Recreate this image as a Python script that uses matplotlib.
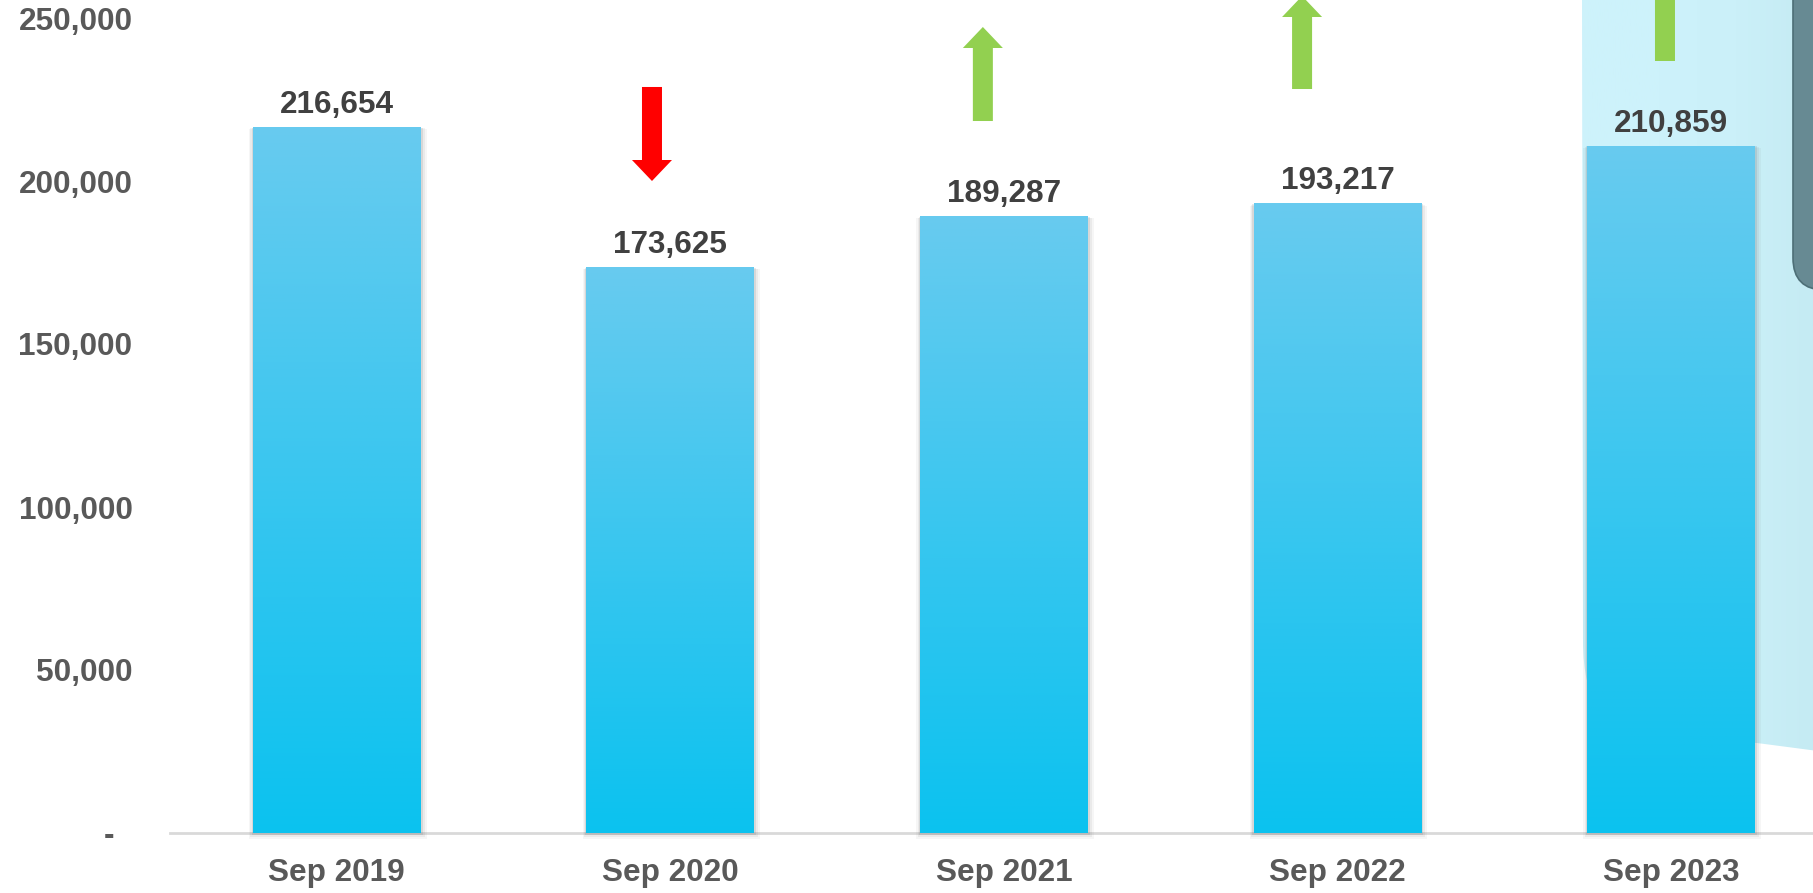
import numpy as np
import matplotlib
matplotlib.use("Agg")
import matplotlib.pyplot as plt
from matplotlib.patches import FancyArrow, Rectangle, PathPatch, FancyBboxPatch
from matplotlib.path import Path
from matplotlib.colors import LinearSegmentedColormap

plt.rcParams["font.family"] = ["Liberation Sans", "DejaVu Sans"]
plt.rcParams["font.weight"] = "bold"

# data
periods = ["Sep 2019", "Sep 2020", "Sep 2021", "Sep 2022", "Sep 2023"]
members = [216654, 173625, 189287, 193217, 210859]
y_ticks = [0, 50000, 100000, 150000, 200000, 250000]
y_tick_labels = ["-  ", "50,000", "100,000", "150,000", "200,000", "250,000"]

W, H = 1813, 893
fig = plt.figure(figsize=(W / 100, H / 100), dpi=100)

# background decoration (pixel coords, y down)
bg = fig.add_axes([0, 0, 1, 1], zorder=0)
bg.set_xlim(0, W)
bg.set_ylim(H, 0)
bg.axis("off")

verts = [(W + 5, -5), (1582, -5), (1583, 640),
         (1583, 705), (1605, 735), (1665, 738),
         (1757, 743), (W + 5, 751), (W + 5, -5)]
codes = [Path.MOVETO, Path.LINETO, Path.LINETO,
         Path.CURVE4, Path.CURVE4, Path.CURVE4,
         Path.LINETO, Path.LINETO, Path.CLOSEPOLY]
blob = PathPatch(Path(verts, codes), facecolor="none", edgecolor="none")
bg.add_patch(blob)
blob_cmap = LinearSegmentedColormap.from_list("blob", ["#cdf2fb", "#cdf2fb", "#cbf0f9", "#c5ebf3"])
im = bg.imshow(np.linspace(0, 1, 100)[None, :], cmap=blob_cmap, aspect="auto",
               extent=(1582, W, H, 0), zorder=1)
im.set_clip_path(blob)

panel = FancyBboxPatch((1793, -60), 80, 350, boxstyle="round,pad=0,rounding_size=32",
                       facecolor="#678a93", edgecolor="#4d6f77", linewidth=1.2, zorder=2)
bg.add_patch(panel)

# main chart
left = 170 / W
bottom = (H - 833) / H
ax = fig.add_axes([left, bottom, 1 - left, 833 / H], zorder=1)
ax.patch.set_alpha(0)

x = np.arange(len(periods))

px = 1 / 333.5       # one pixel in x data units
py = 250000 / 815    # one pixel in y data units

bar_w = 0.503
bars = ax.bar(x, members, width=bar_w, color="none", edgecolor="none", zorder=3)

grad_cmap = LinearSegmentedColormap.from_list("bar", ["#0bc2ef", "#68cbef"])
for b in bars:
    bx, bw, bh = b.get_x(), b.get_width(), b.get_height()
    # soft shadow
    for k, a in [(6, 0.05), (4, 0.07), (2, 0.12)]:
        ax.add_patch(Rectangle((bx - k * px * 0.6, -k * py), bw + k * px * 1.6, bh + k * py * 0.6,
                               facecolor="#555555", edgecolor="none", alpha=a, zorder=2,
                               clip_on=False))
    img = ax.imshow(np.linspace(0, 1, 256)[:, None], cmap=grad_cmap, aspect="auto",
                    origin="lower", extent=(bx, bx + bw, 0, bh), zorder=3)
    img.set_clip_path(b)

ax.set_xlim(-0.5, (W - 337) / 333.5)
ax.set_ylim(0, 250000 * 833 / 815)

for xi, v in zip(x, members):
    ax.annotate(f"{v:,}", (xi, v), xytext=(0, 10), textcoords="offset points",
                ha="center", va="baseline", fontsize=22.7, color="#404040",
                fontweight="bold", zorder=5)

# change arrows (x centre, start, end)
arrows = [(0.945, 228840, 200000, "#ff0000"),
          (1.937, 218400, 247240, "#92d050"),
          (2.894, 228220, 256750, "#92d050"),
          (3.982, 236810, 267800, "#92d050")]
for ax_x, y0, y1, col in arrows:
    ax.add_patch(FancyArrow(ax_x, y0, 0, y1 - y0, width=20 * px, head_width=40 * px,
                            head_length=21 * py, length_includes_head=True,
                            facecolor=col, edgecolor="none", zorder=4, clip_on=False))

ax.set_xticks(x)
ax.set_xticklabels(periods, fontsize=22.7, color="#595959", fontweight="bold")
ax.set_yticks(y_ticks)
ax.set_yticklabels(y_tick_labels, fontsize=22.7, color="#595959", fontweight="bold")
ax.tick_params(axis="both", length=0)
ax.tick_params(axis="y", pad=27)
ax.tick_params(axis="x", pad=18)

for s in ["top", "right", "left"]:
    ax.spines[s].set_visible(False)
ax.spines["bottom"].set_color("#d9d9d9")
ax.spines["bottom"].set_linewidth(2)
ax.spines["bottom"].set_zorder(1)

fig.savefig("out.png", dpi=100)
